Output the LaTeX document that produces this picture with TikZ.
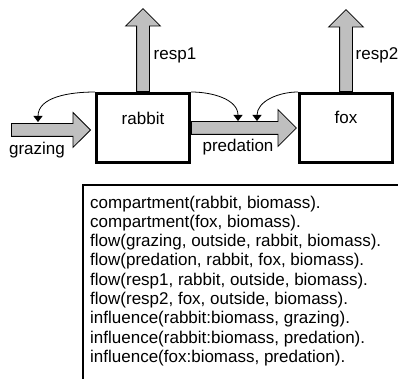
\documentclass[tikz,border=0pt]{standalone}
\usepackage{fontspec}
\setmainfont{Liberation Sans}
\usetikzlibrary{arrows.meta}
\usetikzlibrary{shapes.arrows}

\tikzset{
  compartment/.style={draw, line width=3pt, minimum width=93pt, minimum height=69pt, inner sep=0pt},
  flowarrow/.style={single arrow, draw, line width=0.8pt, fill=black!25, inner sep=6pt,
    single arrow head extend=11pt, single arrow head indent=0pt},
  influence/.style={-{Triangle[width=9pt,length=6pt]}, line width=0.8pt},
}

\begin{document}
\begin{tikzpicture}[x=1pt, y=-1pt, font=\fontsize{17}{19}\selectfont]
    \useasboundingbox (0,0) rectangle (398,379);

    % compartments
    \node[compartment] (rabbit) at (143,128) {};
    \node[compartment] (fox) at (346,128) {};
    \node (rabbitname) at ([yshift=-26pt]rabbit.north) {rabbit};
    \node (foxname) at ([yshift=-25pt]fox.north) {fox};

    % flows
    \node[flowarrow, minimum height=79pt, anchor=tip] (grazing) at ([xshift=-4pt,yshift=-2pt]rabbit.west) {};
    \node[flowarrow, minimum height=105pt, single arrow head extend=12pt, anchor=tail] (predation) at (rabbit.east) {};
    \node[flowarrow, shape border rotate=90, minimum height=83pt, anchor=tail] (resp1) at (rabbit.north) {};
    \node[flowarrow, shape border rotate=90, minimum height=82pt, anchor=tail] (resp2) at (fox.north) {};

    \node (grazinglabel) at (37,150) {grazing};
    \node (predationlabel) at (238,147) {predation};
    \node (resp1label) at (175,55) {resp1};
    \node (resp2label) at (377,55) {resp2};

    % influences
    \coordinate (grazinfl) at (38,122);
    \coordinate (predinfl1) at (238,121);
    \coordinate (predinfl2) at (257,121);
    \draw[influence] (rabbit.north west) to[out=180,in=90] (grazinfl);
    \draw[influence] (rabbit.north east) to[out=0,in=90] (predinfl1);
    \draw[influence] (fox.north west) to[out=180,in=90] (predinfl2);

    % listing
    \draw[line width=1.5pt] (398,185) -- (83,185) -- (83,379);
    \foreach \txt [count=\i] in {{compartment(rabbit, biomass).},
        {compartment(fox, biomass).},
        {flow(grazing, outside, rabbit, biomass).},
        {flow(predation, rabbit, fox, biomass).},
        {flow(resp1, rabbit, outside, biomass).},
        {flow(resp2, fox, outside, biomass).},
        {influence(rabbit:biomass, grazing).},
        {influence(rabbit:biomass, predation).},
        {influence(fox:biomass, predation).}}
      \node[anchor=base west, inner sep=0pt] (line\i) at (90,{208+19.3*(\i-1)}) {\txt};
\end{tikzpicture}
\end{document}
